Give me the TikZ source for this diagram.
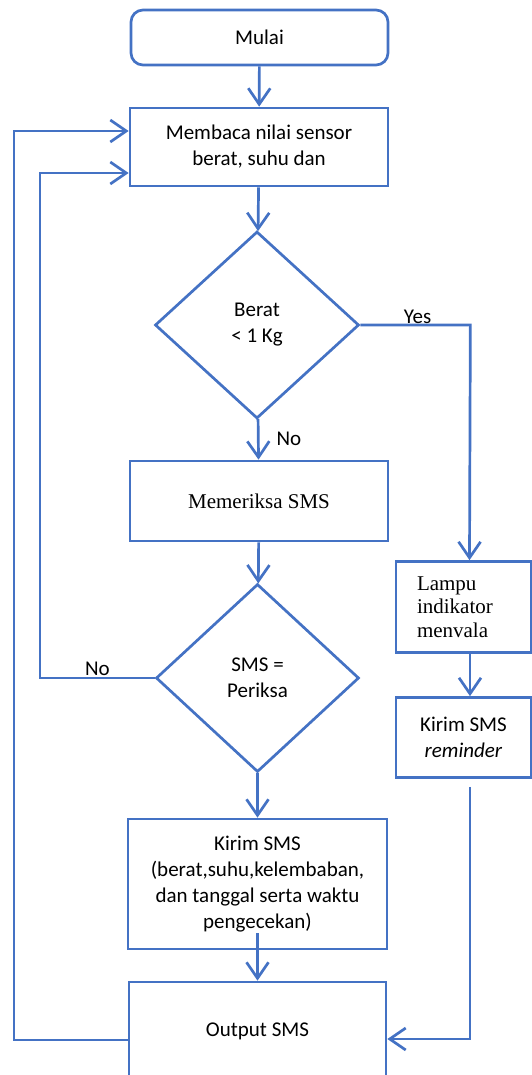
\documentclass[tikz,border=0pt]{standalone}
\usepackage{fontspec}
\setmainfont{Carlito}
\newfontfamily\serifface{Liberation Serif}
\usepackage{tikz}
\usetikzlibrary{positioning}
\usetikzlibrary{calc}
\usetikzlibrary{arrows.meta,shapes.geometric}

\definecolor{flowblue}{RGB}{68,114,196}

\tikzset{
  box/.style={draw=flowblue, line width=2.7pt, rectangle, inner sep=0pt,
    align=center, font=\fontsize{21}{26}\selectfont},
  choice/.style={draw=flowblue, line width=2.7pt, diamond, inner sep=0pt,
    align=center, font=\fontsize{21}{26}\selectfont},
  link/.style={draw=flowblue, line width=2.7pt,
    -{Straight Barb[length=16pt,width=22pt,line width=2.7pt]}},
  tag/.style={font=\fontsize{21}{26}\selectfont, inner sep=2pt}
}

\begin{document}
\begin{tikzpicture}[x=1pt,y=-1pt]
\useasboundingbox (0,0) rectangle (532,1075);
\clip (0,0) rectangle (532,1075);

% boxes
\node[box, rounded corners=12pt, minimum width=257pt, minimum height=55pt]
  (mulai) at (259.5,37.5) {Mulai};
\node[box, minimum width=258pt, minimum height=78pt]
  (membaca) at (259,147) {Membaca nilai sensor\\berat, suhu dan};
\node[choice, minimum width=204pt, minimum height=187pt]
  (berat) at (257,325) {Berat\\< 1 Kg};
\node[box, minimum width=258pt, minimum height=80pt,
  font=\serifface\fontsize{21}{24}\selectfont]
  (memeriksa) at (259,501) {Memeriksa SMS};
\node[choice, minimum width=203pt, minimum height=188pt]
  (sms) at (257.5,678) {SMS =\\Periksa};
\node[box, minimum width=135pt, minimum height=91pt, text width=93pt, align=left,
  font=\serifface\fontsize{21}{23.5}\selectfont]
  (lampu) at (463.5,607) {Lampu\\indikator\\menvala};
\node[box, minimum width=135pt, minimum height=80pt]
  (reminder) at (463.5,737.5) {Kirim SMS\\\textit{reminder}};
\node[box, minimum width=259pt, minimum height=130pt]
  (kirim) at (257.5,884) {Kirim SMS\\(berat,suhu,kelembaban,\\dan tanggal serta waktu\\pengecekan)};
\node[box, minimum width=257pt, minimum height=98pt]
  (output) at (257.5,1031) {Output SMS};

% loop corners
\coordinate (loopa) at (40,678);
\coordinate (loopb) at (14,1040);

% connectors
\draw[link] (mulai) -- (membaca);
\draw[link] (membaca) -- (berat);
\draw[link] (berat) -- node[tag, right=15pt] {No} (memeriksa);
\draw[link] (berat.east) -- node[tag, pos=0.52, above=-2pt] {Yes} ++(110,0)
  -- ([xshift=6pt]lampu.north);
\draw[link] (memeriksa) -- (sms);
\draw[link] (sms) -- (kirim);
\draw[link] (sms.west) -- node[tag, midway, above=-1pt] {No} (loopa)
  |- ([yshift=-26pt]membaca.west);
\draw[link] ([xshift=6.5pt]lampu.south) -- ([xshift=6.5pt]reminder.north);
\draw[link] ([xshift=6.5pt,yshift=-8pt]reminder.south) |- ([yshift=-8pt]output.east);
\draw[link] ([yshift=17pt]kirim.south) -- (output.north);
\draw[link] ([yshift=-9pt]output.west) -- (loopb) |- ([yshift=16pt]membaca.west);

\end{tikzpicture}
\end{document}
